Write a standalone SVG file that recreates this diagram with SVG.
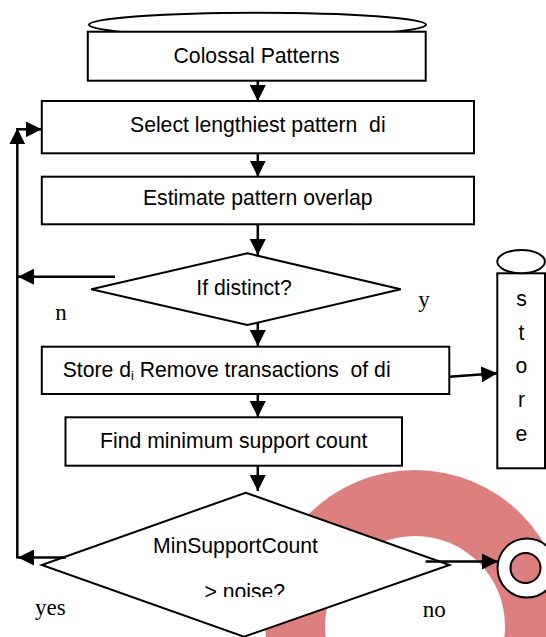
<svg xmlns="http://www.w3.org/2000/svg" width="546" height="637" viewBox="0 0 546 637">
<style>
.box{fill:#fff;stroke:#000;stroke-width:2}
.t{font-family:"Liberation Sans",Arial,sans-serif;font-size:21.2px;fill:#000;white-space:pre}
.s{font-family:"Liberation Serif","Times New Roman",serif;font-size:23px;fill:#000}
.c{fill:none;stroke:#000;stroke-width:2.5}
</style>
<defs>
<marker id="ah" markerUnits="userSpaceOnUse" markerWidth="16" markerHeight="16" refX="15" refY="7.5" orient="auto" viewBox="0 0 15 15">
<path d="M0,0 L15,7.5 L0,15 Z" fill="#000"/>
</marker>
<clipPath id="clipNoise"><rect x="150" y="570" width="200" height="27"/></clipPath>
</defs>
<rect width="546" height="637" fill="#fff"/>
<path id="watermark" d="M265,620 a150,150 0 1,0 300,0 a150,150 0 1,0 -300,0 Z M325,626 a90,90 0 1,0 180,0 a90,90 0 1,0 -180,0 Z" fill="#de7f7f" fill-rule="evenodd"/>

<g id="colossal">
<ellipse class="box" cx="257.5" cy="24.7" rx="168.5" ry="12"/>
<rect class="box" x="87.8" y="31.7" width="337.9" height="49"/>
<text class="t" x="256.6" y="62.7" text-anchor="middle">Colossal Patterns</text>
</g>
<g id="select">
<rect class="box" x="41.8" y="101" width="432.2" height="52.3"/>
<text class="t" x="257.8" y="132.3" text-anchor="middle">Select lengthiest pattern  di</text>
</g>
<g id="estimate">
<rect class="box" x="41.8" y="176.7" width="432.2" height="47.6"/>
<text class="t" x="257.8" y="205" text-anchor="middle">Estimate pattern overlap</text>
</g>
<g id="distinct">
<polygon class="box" points="247.4,253.3 400.7,289.3 247.4,325 91.3,289.3"/>
<text class="t" x="244" y="295" text-anchor="middle">If distinct?</text>
</g>
<g id="storeStep">
<rect class="box" x="41.8" y="346.7" width="407.5" height="47.3"/>
<text class="t" x="62.7" y="377.3">Store d<tspan font-size="13" dy="3">i</tspan><tspan dy="-3"> Remove transactions  of di</tspan></text>
</g>
<g id="findMin">
<rect class="box" x="65.5" y="417.3" width="336.5" height="48.4"/>
<text class="t" x="233.7" y="448.3" text-anchor="middle">Find minimum support count</text>
</g>
<g id="noiseCheck">
<polygon class="box" points="245.6,492.7 449.5,565 244,636.7 41.8,565"/>
<text class="t" x="235.5" y="553.3" text-anchor="middle">MinSupportCount</text>
<text class="t" x="244.8" y="599" text-anchor="middle" clip-path="url(#clipNoise)">&gt; noise?</text>
</g>
<g id="store">
<rect class="box" x="497.3" y="273.3" width="47.7" height="195"/>
<ellipse class="box" cx="521.1" cy="261.6" rx="23.8" ry="11.6"/>
<text class="t" x="521.5" y="306" text-anchor="middle">s</text>
<text class="t" x="521.5" y="339.5" text-anchor="middle">t</text>
<text class="t" x="521.5" y="373.3" text-anchor="middle">o</text>
<text class="t" x="521.5" y="407" text-anchor="middle">r</text>
<text class="t" x="521.5" y="441" text-anchor="middle">e</text>
</g>
<g id="end">
<path d="M497.5,568 a29.5,29.5 0 1,0 59,0 a29.5,29.5 0 1,0 -59,0 Z M510.5,568 a15,15 0 1,0 30,0 a15,15 0 1,0 -30,0 Z" fill="#fff" fill-rule="evenodd" stroke="#000" stroke-width="2"/>
</g>

<g id="connectors">
<path class="c" d="M257.8,80.7 V101" marker-end="url(#ah)"/>
<path class="c" d="M257.8,153.3 V176.7" marker-end="url(#ah)"/>
<path class="c" d="M257.8,224.3 V255" marker-end="url(#ah)"/>
<path class="c" d="M257.8,322.5 V346" marker-end="url(#ah)"/>
<path class="c" d="M449.3,376.7 L497.3,373.3" marker-end="url(#ah)"/>
<path class="c" d="M257.8,394 V417" marker-end="url(#ah)"/>
<path class="c" d="M257.8,465.7 V491" marker-end="url(#ah)"/>
<path class="c" d="M115,276.7 H18" marker-end="url(#ah)"/>
<path class="c" d="M66,557.5 H18" marker-end="url(#ah)"/>
<path class="c" d="M17.3,558.5 V128.3" marker-end="url(#ah)"/>
<path class="c" d="M16,129.3 H41.7" marker-end="url(#ah)"/>
<path class="c" d="M425.5,561.5 H498" marker-end="url(#ah)"/>
</g>
<g id="labels">
<text class="s" x="424" y="307" text-anchor="middle">y</text>
<text class="s" x="61" y="320" text-anchor="middle">n</text>
<text class="s" x="50.3" y="615" text-anchor="middle">yes</text>
<text class="s" x="434.3" y="617" text-anchor="middle">no</text>
</g>
</svg>
